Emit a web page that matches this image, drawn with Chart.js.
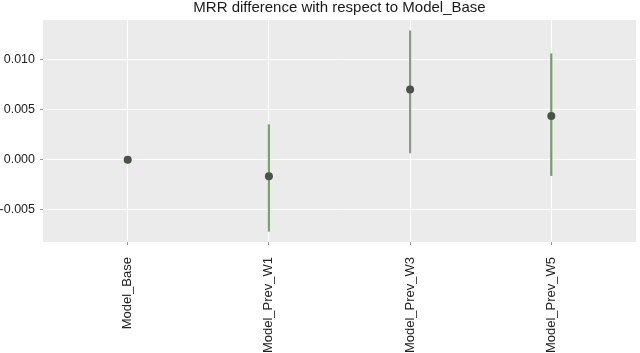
<!DOCTYPE html>
<html lang="en">

<head>
    <meta charset="utf-8">
    <title>MRR difference</title>
    <script src="https://cdn.jsdelivr.net/npm/chart.js@4.4.0/dist/chart.umd.min.js"></script>
    <style>
        html, body { margin: 0; padding: 0; background: #fff; }
        .kontainer { width: 640px; height: 353px; }
    </style>
</head>

<body>
    <div class="kontainer">
        <canvas id="myChart" width="640" height="353"></canvas>
    </div>
    <script>
        // categories and values
        const modeller = ['Model_Base', 'Model_Prev_W1', 'Model_Prev_W3', 'Model_Prev_W5'];
        const mrrDiff = [0, -0.00166, 0.00699, 0.00434];
        const ciLow = [null, -0.00713, 0.00067, -0.00159];
        const ciHigh = [null, 0.00348, 0.01282, 0.01054];
        const barColors = ['#8b968a', '#72a866', '#8d978c', '#729c6f'];
        const yTicks = [-0.005, 0, 0.005, 0.010];

        const font = 'Liberation Sans, Arial, sans-serif';

        // grey ggplot panel
        const panelBg = {
            id: 'panelBg',
            beforeDraw(chart) {
                const a = chart.chartArea;
                const c = chart.ctx;
                c.save();
                c.fillStyle = '#ebebeb';
                c.fillRect(a.left, a.top, a.right - a.left, a.bottom - a.top);
                c.restore();
            },
            // center the title over the panel like ggplot does
            afterLayout(chart) {
                const t = chart.titleBlock;
                if (t) {
                    t.left = chart.chartArea.left;
                    t.right = chart.chartArea.right;
                    t.width = t.right - t.left;
                }
            }
        };

        const ctx = document.getElementById('myChart').getContext('2d');
        const myChart = new Chart(ctx, {
            type: 'bar',
            data: {
                datasets: [{
                    type: 'line',
                    label: 'MRR diff',
                    data: modeller.map((m, i) => ({ x: i + 1, y: mrrDiff[i] })),
                    showLine: false,
                    pointRadius: 4,
                    pointBackgroundColor: '#4a5148',
                    pointBorderColor: '#4a5148',
                    pointBorderWidth: 0,
                    order: 0
                }, {
                    label: 'CI',
                    data: modeller.map((m, i) => ({ x: i + 1, y: ciLow[i] === null ? null : [ciLow[i], ciHigh[i]] })),
                    backgroundColor: barColors,
                    borderWidth: 0,
                    barThickness: 1.5,
                    order: 1
                }]
            },
            plugins: [panelBg],
            options: {
                responsive: false,
                animation: false,
                layout: { padding: { top: 0, right: 2, left: 0, bottom: 0 } },
                plugins: {
                    legend: { display: false },
                    tooltip: { enabled: false },
                    title: {
                        display: true,
                        text: 'MRR difference with respect to Model_Base',
                        color: '#1a1a1a',
                        font: { family: font, size: 15, weight: 'normal', lineHeight: 1 },
                        padding: { top: 0, bottom: 5 }
                    }
                },
                scales: {
                    x: {
                        type: 'linear',
                        min: 0.4,
                        max: 4.6,
                        offset: false,
                        border: { display: false },
                        grid: { color: '#ffffff', lineWidth: 1, offset: false, tickLength: 3, tickColor: '#999' },
                        afterBuildTicks: s => { s.ticks = modeller.map((m, i) => ({ value: i + 1 })); },
                        afterFit: s => { s.height = 111; },
                        ticks: {
                            minRotation: 90,
                            maxRotation: 90,
                            padding: 12,
                            color: '#222',
                            font: { family: font, size: 13 },
                            callback: v => modeller[v - 1]
                        }
                    },
                    y: {
                        min: -0.0082,
                        max: 0.0139,
                        border: { display: false },
                        grid: { color: '#ffffff', lineWidth: 1, tickLength: 3, tickColor: '#999' },
                        afterBuildTicks: s => { s.ticks = yTicks.map(v => ({ value: v })); },
                        afterFit: s => { s.width = 43; },
                        ticks: {
                            padding: 5,
                            color: '#222',
                            font: { family: font, size: 12.5 },
                            callback: v => v.toFixed(3)
                        }
                    }
                }
            }
        });
    </script>
</body>

</html>
